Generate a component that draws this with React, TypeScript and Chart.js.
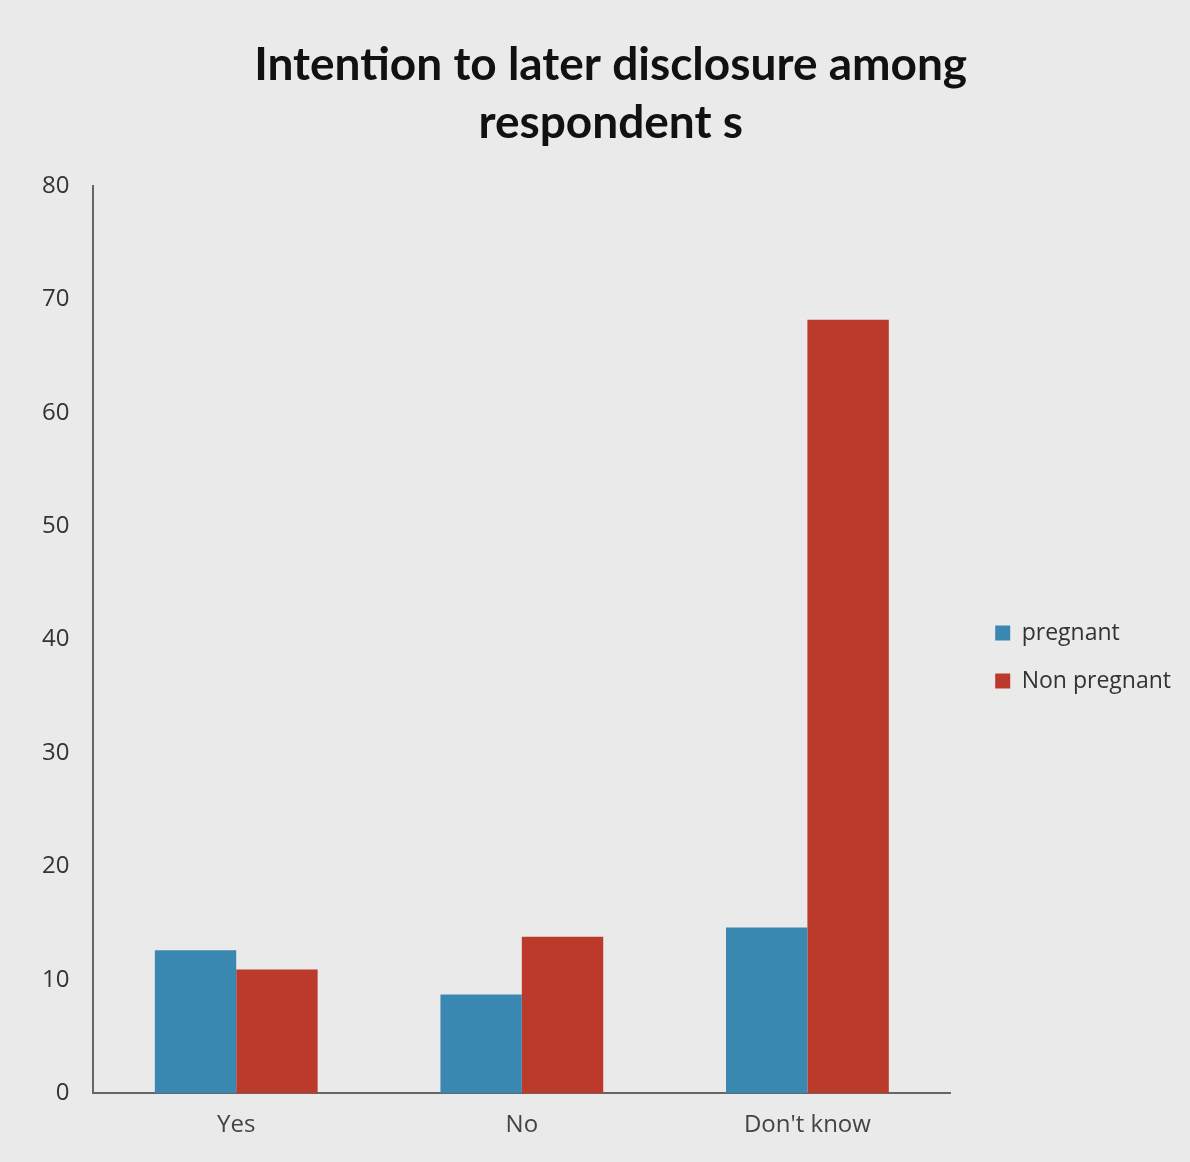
import React, { useEffect, useRef } from "react";
import { Chart, registerables } from "chart.js";

Chart.register(...registerables);

const categories = ["Yes", "No", "Don't know"];
const pregnant = [12.6, 8.7, 14.6];
const nonPregnant = [10.9, 13.8, 68.2];
const titleLines = ["  Intention to later disclosure among", "  respondent s"];

export default function App() {
  const ref = useRef<HTMLCanvasElement | null>(null);
  useEffect(() => {
    document.body.style.margin = "0";
    const ctx = ref.current!;
    const chart = new Chart(ctx, {
      type: "bar",
      data: {
        labels: categories,
        datasets: [
          { label: "pregnant", data: pregnant, backgroundColor: "#3a88b2", borderWidth: 0 },
          { label: "Non pregnant", data: nonPregnant, backgroundColor: "#bb3a2c", borderWidth: 0 },
        ],
      },
      options: {
        responsive: false,
        animation: false,
        layout: { padding: { top: 36, left: 18, right: 9, bottom: 4 } },
        datasets: { bar: { categoryPercentage: 0.57, barPercentage: 1 } },
        plugins: {
          title: {
            display: true,
            text: titleLines,
            color: "#111",
            font: { family: "Lato", size: 46, weight: "bold", lineHeight: 1.26 },
            padding: { top: 0, bottom: 34 },
          },
          legend: {
            position: "right",
            align: "center",
            maxWidth: 300,
            title: { display: true, text: " ", font: { size: 10, lineHeight: 1 }, padding: { top: 110, bottom: 0 } },
            labels: {
              color: "#333",
              font: { family: "Open Sans", size: 23 },
              boxWidth: 15,
              boxHeight: 15,
              padding: 25,
            },
          },
          tooltip: { enabled: false },
        },
        scales: {
          x: {
            grid: { display: false, drawTicks: false },
            border: { color: "#666", width: 2 },
            ticks: { color: "#444", font: { family: "Open Sans", size: 24 }, padding: 18 },
          },
          y: {
            min: 0,
            max: 80,
            grid: { display: false, drawTicks: false },
            border: { color: "#666", width: 2 },
            ticks: { stepSize: 10, color: "#333", font: { family: "Open Sans", size: 24 }, padding: 24 },
          },
          spacer: {
            type: "linear",
            position: "right",
            display: true,
            grid: { display: false, drawTicks: false },
            border: { display: false },
            ticks: { display: false },
            afterFit: (scale: any) => {
              scale.width = 20;
            },
          },
        },
      },
    });
    return () => chart.destroy();
  }, []);
  return (
    <div style={{ width: 1190, height: 1162, background: "#eaeaea" }}>
      <canvas ref={ref} width={1190} height={1162} />
    </div>
  );
}
